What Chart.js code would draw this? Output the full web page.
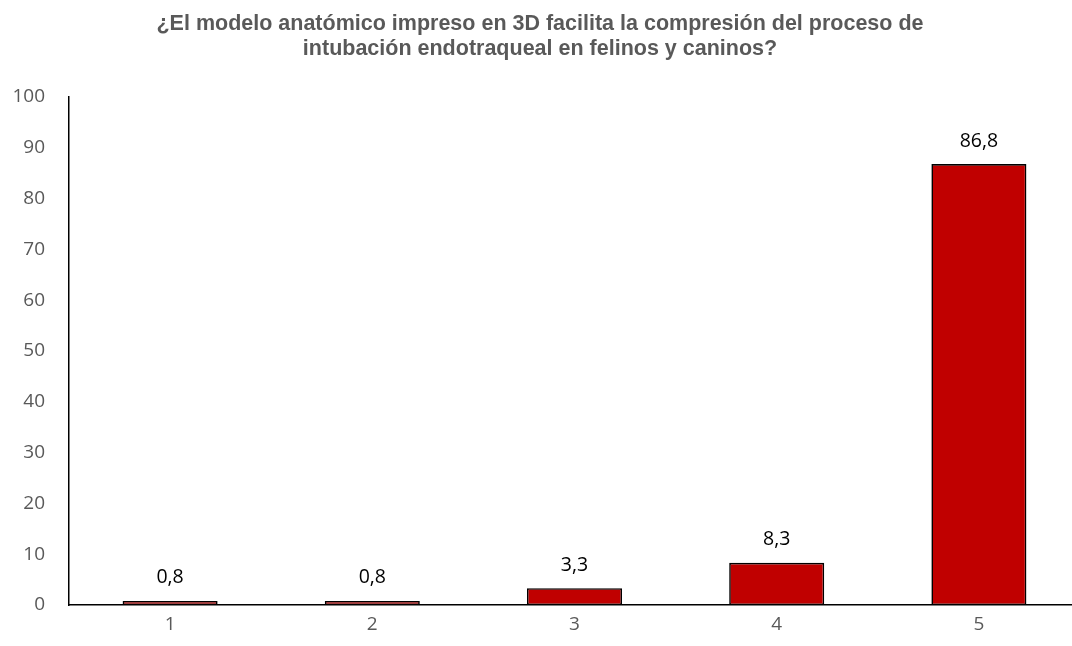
<!DOCTYPE html>
<html lang="es">
<head>
<meta charset="utf-8">
<title>Intubación endotraqueal</title>
<script src="https://cdn.jsdelivr.net/npm/chart.js@4.4.1/dist/chart.umd.min.js"></script>
<style>
  html, body { margin:0; padding:0; background:#fff; overflow:hidden; }
  #chart { display:block; }
</style>
</head>
<body>
<canvas id="chart" width="1080" height="646"></canvas>
<script>
// Respuestas en escala 1-5 (% de encuestados)
const categories = ['1', '2', '3', '4', '5'];
const percentages = [0.8, 0.8, 3.3, 8.3, 86.8];
const titleLines = [
  '¿El modelo anatómico impreso en 3D facilita la compresión del proceso de',
  'intubación endotraqueal en felinos y caninos?'
];

const TICK_GRAY = '#595959';
const TICK_FONT = { family:'Open Sans', size:19 };

// etiqueta de valor encima de cada barra, con coma decimal
const valueLabels = {
  id:'valueLabels',
  afterDatasetsDraw(chart){
    const ctx = chart.ctx;
    const meta = chart.getDatasetMeta(0);
    ctx.save();
    ctx.font = '19.5px "Open Sans"';
    ctx.fillStyle = '#000';
    ctx.textAlign = 'center';
    ctx.textBaseline = 'middle';
    meta.data.forEach((bar, i) => {
      const txt = percentages[i].toFixed(1).replace('.', ',');
      ctx.fillText(txt, bar.x, bar.y - 23);
    });
    ctx.restore();
  }
};

new Chart(document.getElementById('chart').getContext('2d'), {
  type:'bar',
  data:{
    labels: categories,
    datasets:[{
      data: percentages,
      backgroundColor:'#C00000',
      borderColor:'#000',
      borderWidth:1.6,
      borderSkipped:false,
      categoryPercentage:1,
      barPercentage:0.47
    }]
  },
  options:{
    responsive:false,
    animation:false,
    layout:{ padding:0 },
    plugins:{
      legend:{ display:false },
      tooltip:{ enabled:false },
      title:{
        display:true,
        text: titleLines,
        color: TICK_GRAY,
        font:{ family:'Liberation Sans', size:21.5, weight:'bold', lineHeight:'25px' },
        padding:{ top:12, bottom:35 }
      }
    },
    scales:{
      x:{
        grid:{ display:false, drawTicks:false },
        border:{ display:true, color:'#000', width:1.5 },
        ticks:{ color:TICK_GRAY, font:TICK_FONT, padding:8 },
        afterFit(scale){ scale.height = 41; }
      },
      y:{
        min:0, max:100,
        grid:{ display:false, drawTicks:false },
        border:{ display:true, color:'#000', width:1.5 },
        ticks:{ stepSize:10, color:TICK_GRAY, font:TICK_FONT, padding:24 },
        afterFit(scale){ scale.width = 69; }
      }
    }
  },
  plugins:[valueLabels]
});
</script>
</body>
</html>
